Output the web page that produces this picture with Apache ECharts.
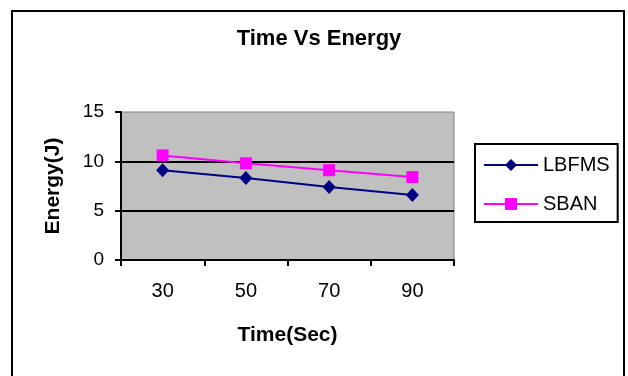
<!DOCTYPE html>
<html>
<head>
<meta charset="utf-8">
<script src="https://cdn.jsdelivr.net/npm/echarts@6/dist/echarts.min.js"></script>
<style>html,body{margin:0;padding:0;background:#fff;}#c{width:628px;height:376px;}</style>
</head>
<body>
<div id="c"></div>
<script>
const categories = ['30', '50', '70', '90'];
const lbfms = [9.1, 8.3, 7.4, 6.6];
const sban = [10.6, 9.8, 9.1, 8.4];
const yTicks = [0, 5, 10, 15];

const FONT = 'Liberation Sans, Arial, sans-serif';
const chart = echarts.init(document.getElementById('c'), null, {renderer: 'canvas'});
chart.setOption({
  backgroundColor: '#fff',
  animation: false,
  title: {
    text: 'Time Vs Energy',
    left: 319, top: 28, textAlign: 'center', padding: 0,
    textStyle: {fontFamily: FONT, fontSize: 22, fontWeight: 'bold', color: '#000'}
  },
  graphic: [{
    type: 'rect', z: 100, silent: true,
    shape: {x: 12, y: 11, width: 612, height: 400},
    style: {fill: 'none', stroke: '#000', lineWidth: 2}
  }],
  legend: {
    orient: 'vertical',
    left: 475, top: 144,
    padding: [11, 8, 8, 8],
    itemWidth: 54, itemHeight: 15, itemGap: 19,
    borderColor: '#000', borderWidth: 2, backgroundColor: '#fff',
    textStyle: {fontFamily: FONT, fontSize: 20, color: '#000'},
    data: ['LBFMS', 'SBAN']
  },
  grid: {
    left: 121, right: 174, top: 112, bottom: 116,
    show: true, backgroundColor: '#C0C0C0', borderColor: '#808080', borderWidth: 1
  },
  xAxis: {
    type: 'category', data: categories, boundaryGap: true,
    name: 'Time(Sec)', nameLocation: 'middle', nameGap: 65,
    nameTextStyle: {fontFamily: FONT, fontSize: 21, fontWeight: 'bold', color: '#000'},
    axisLine: {lineStyle: {color: '#000', width: 2}},
    axisTick: {show: true, length: 6, inside: false, lineStyle: {color: '#000', width: 2}},
    axisLabel: {margin: 21, fontFamily: FONT, fontSize: 20, color: '#000'},
    splitLine: {show: false}
  },
  yAxis: {
    type: 'value', min: yTicks[0], max: yTicks[yTicks.length - 1], interval: 5,
    name: 'Energy(J)', nameLocation: 'middle', nameGap: 57,
    nameTextStyle: {fontFamily: FONT, fontSize: 21, fontWeight: 'bold', color: '#000'},
    axisLine: {show: true, lineStyle: {color: '#000', width: 2}},
    axisTick: {show: true, length: 6, lineStyle: {color: '#000', width: 2}},
    axisLabel: {margin: 17, fontFamily: FONT, fontSize: 19, color: '#000'},
    splitLine: {show: true, showMaxLine: false, lineStyle: {color: '#000', width: 2}}
  },
  series: [{
    name: 'LBFMS', type: 'line', data: lbfms,
    symbol: 'diamond', symbolSize: [13, 14],
    itemStyle: {color: '#000080'},
    lineStyle: {color: '#000080', width: 2}
  }, {
    name: 'SBAN', type: 'line', data: sban,
    symbol: 'rect', symbolSize: 12,
    itemStyle: {color: '#FF00FF'},
    lineStyle: {color: '#FF00FF', width: 2}
  }]
});
</script>
</body>
</html>
